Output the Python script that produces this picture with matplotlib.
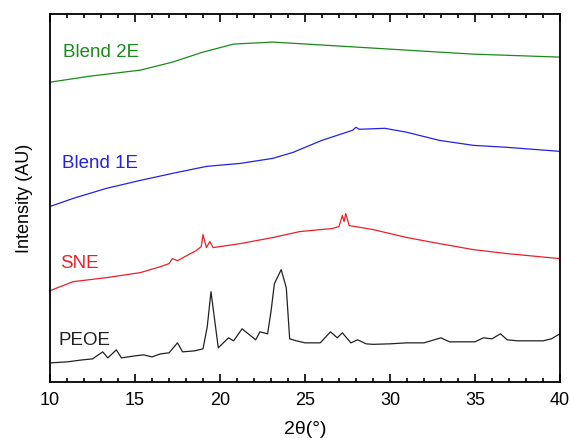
import matplotlib.pyplot as plt
from matplotlib.ticker import MultipleLocator

plt.rcParams['font.family'] = ['Liberation Sans', 'DejaVu Sans']

# XRD patterns, intensity in arbitrary units (offset stacked)
peoe_x = [10, 11, 11.9, 12.5, 13.1, 13.4, 13.9, 14.2, 15, 15.5, 16, 16.5, 17, 17.5, 17.8,
          18.5, 19, 19.25, 19.47, 19.7, 19.9, 20.5, 20.8, 21.3, 22.1, 22.35, 22.8, 23.0, 23.2,
          23.6, 23.9, 24.1, 24.5, 25, 25.9, 26.5, 26.9, 27.2, 27.7, 28.1, 28.6, 29, 30,
          31, 32, 33, 33.5, 34, 35, 35.5, 36, 36.5, 36.9, 37.5, 38, 39, 39.5, 40]
peoe_y = [19, 20, 22, 23, 30, 24, 32, 24, 26, 27, 25, 28, 29, 39, 30,
          31, 33, 55, 90, 60, 34, 44, 41, 53, 42, 50, 48, 70, 98,
          112, 94, 43, 41, 39, 39, 50, 44, 49, 39, 42, 38, 37.5, 38,
          39, 39, 44, 40, 40, 40, 44, 43, 48, 42, 41, 41, 41, 43, 48]

sne_x = [10, 11.35, 13.3, 15.3, 16.5, 17.0, 17.2, 17.5, 18.6, 18.9, 19.0, 19.2, 19.4,
         19.6, 21.2, 23.1, 24.7, 26.6, 27.0, 27.2, 27.3, 27.4, 27.6, 29.0, 31.0, 32.9,
         34.9, 36.9, 40]
sne_y = [91, 100, 104, 109, 115, 118, 123, 121, 131, 135, 147, 134, 140,
         134, 138, 144, 150, 153, 155, 166, 160, 168, 156, 152, 144, 138,
         132, 128, 123]

b1_x = [10, 11.35, 13.3, 15.3, 17.2, 19.2, 21.2, 23.1, 24.3, 26.0, 27.8, 28.0, 28.2,
        29.7, 31.0, 32.9, 34.9, 36.9, 40]
b1_y = [175, 183, 193, 201, 208, 215, 218, 223, 229, 241, 251, 254, 252,
        253, 249, 241, 236, 234, 230]

b2_x = [10, 12.35, 15.3, 17.2, 19.0, 20.8, 23.1, 25.1, 29.0, 32.9, 34.9, 40]
b2_y = [299, 305, 311, 319, 329, 337, 339, 337, 333, 329, 327, 324]

labels = ['Blend 2E', 'Blend 1E', 'SNE', 'PEOE']
colors = ['#1a8a1a', '#2323e0', '#e8202a', '#222222']
label_x = [10.76, 10.7, 10.6, 10.5]
label_y = [329, 218, 118, 41]

fig = plt.figure(figsize=(5.71, 4.38), dpi=100)
ax = fig.add_axes([0.0876, 0.128, 0.893, 0.840])

series = [(b2_x, b2_y), (b1_x, b1_y), (sne_x, sne_y), (peoe_x, peoe_y)]
for (xs, ys), c in zip(series, colors):
    ax.plot(xs, ys, color=c, lw=0.9)

for name, c, xx, yy in zip(labels, colors, label_x, label_y):
    ax.text(xx, yy, name, color=c, fontsize=13.5, va='center', ha='left')

ax.set_xlim(10, 40)
ax.set_ylim(0, 367)
ax.xaxis.set_major_locator(MultipleLocator(5))
ax.xaxis.set_minor_locator(MultipleLocator(1))
ax.tick_params(axis='x', which='both', direction='in', top=True, labelsize=13, width=1.2)
ax.tick_params(axis='x', which='major', length=6, pad=7)
ax.tick_params(axis='x', which='minor', length=3)
ax.set_yticks([])
for s in ax.spines.values():
    s.set_linewidth(1.3)

ax.set_xlabel('2\u03b8(\u00b0)', fontsize=14, labelpad=9)
ax.set_ylabel('Intensity (AU)', fontsize=13, labelpad=12)

fig.savefig('out.png', dpi=100)
